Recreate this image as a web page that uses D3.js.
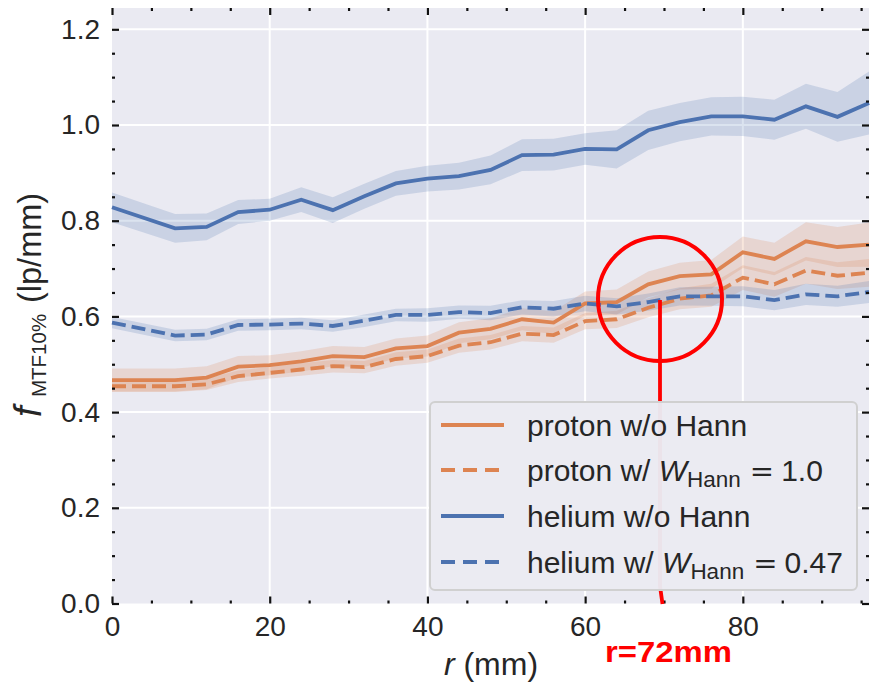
<!DOCTYPE html>
<html><head><meta charset="utf-8">
<script src="https://cdn.jsdelivr.net/npm/d3@7"></script>
<style>
html,body{margin:0;padding:0;background:#fff;}
svg{display:block;font-family:"Liberation Sans",Arial,sans-serif;}
</style></head>
<body>
<svg id="chart" width="871" height="682"></svg>
<script>
// ---------- data ----------
const rVals = [0,8,12,16,20,24,28,32,36,40,44,48,52,56,60,64,68,72,76,80,84,88,92,96];
const protonNoHann = [0.467,0.467,0.472,0.495,0.498,0.506,0.517,0.515,0.533,0.538,0.566,0.574,0.594,0.587,0.627,0.630,0.667,0.684,0.688,0.734,0.720,0.757,0.745,0.750];
const protonHann   = [0.454,0.454,0.458,0.475,0.482,0.489,0.496,0.494,0.511,0.517,0.539,0.546,0.564,0.561,0.590,0.594,0.618,0.637,0.644,0.681,0.667,0.696,0.685,0.691];
const heliumNoHann = [0.828,0.784,0.787,0.818,0.823,0.844,0.822,0.851,0.878,0.888,0.893,0.906,0.937,0.938,0.950,0.949,0.989,1.006,1.018,1.018,1.011,1.039,1.017,1.046];
const heliumHann   = [0.587,0.560,0.562,0.582,0.583,0.585,0.580,0.591,0.603,0.603,0.609,0.607,0.619,0.616,0.627,0.621,0.630,0.642,0.642,0.642,0.634,0.646,0.642,0.651];
const protonNoHannCI = [0.024,0.024,0.024,0.022,0.021,0.021,0.021,0.021,0.021,0.022,0.022,0.022,0.023,0.024,0.025,0.026,0.027,0.028,0.030,0.033,0.034,0.040,0.042,0.046];
const protonHannCI   = [0.012,0.012,0.012,0.012,0.012,0.013,0.013,0.013,0.014,0.014,0.015,0.015,0.016,0.016,0.017,0.018,0.020,0.022,0.024,0.026,0.026,0.028,0.028,0.029];
const heliumNoHannCI = [0.031,0.030,0.028,0.025,0.023,0.026,0.027,0.026,0.026,0.027,0.028,0.030,0.033,0.033,0.033,0.040,0.041,0.040,0.040,0.041,0.042,0.047,0.052,0.066];
const heliumHannCI   = [0.012,0.012,0.012,0.012,0.012,0.012,0.012,0.013,0.013,0.014,0.014,0.015,0.015,0.016,0.016,0.017,0.018,0.019,0.020,0.021,0.021,0.022,0.022,0.023];
const xMajorTicks = [0,20,40,60,80];
const xTickLabels = ["0","20","40","60","80"];
const yMajorTicks = [0.0,0.2,0.4,0.6,0.8,1.0,1.2];
const yTickLabels = ["0.0","0.2","0.4","0.6","0.8","1.0","1.2"];
const annotationText = "r=72mm";

const ORANGE = "#dd8452", BLUE = "#4c72b0";
const seriesList = [
  {name:"proton w/o Hann", vals:protonNoHann, ci:protonNoHannCI, color:ORANGE, dashed:false},
  {name:"proton w/ ", w:"1.0", vals:protonHann, ci:protonHannCI, color:ORANGE, dashed:true},
  {name:"helium w/o Hann", vals:heliumNoHann, ci:heliumNoHannCI, color:BLUE, dashed:false},
  {name:"helium w/ ", w:"0.47", vals:heliumHann, ci:heliumHannCI, color:BLUE, dashed:true}
];

// ---------- layout ----------
const L = 112, R = 869, T = 8, B = 603.5;
const x = d3.scaleLinear().domain([0,96]).range([L,R]);
const y = d3.scaleLinear().domain([0,1.2445]).range([B,T]);
const svg = d3.select("#chart");
const txt = "#262626";

svg.append("rect").attr("x",L).attr("y",T).attr("width",R-L).attr("height",B-T).attr("fill","#eaeaf2");

// grid
const g = svg.append("g");
g.selectAll(".gx").data(xMajorTicks.slice(1)).enter().append("line")
  .attr("x1",d=>x(d)).attr("x2",d=>x(d)).attr("y1",T).attr("y2",B)
  .attr("stroke","#fff").attr("stroke-width",2);
g.selectAll(".gy").data(yMajorTicks.slice(1)).enter().append("line")
  .attr("x1",L).attr("x2",R).attr("y1",d=>y(d)).attr("y2",d=>y(d))
  .attr("stroke","#fff").attr("stroke-width",2);

// bands and lines
const area = d3.area().x(d=>x(d.r)).y0(d=>y(d.v-d.c)).y1(d=>y(d.v+d.c));
const line = d3.line().x(d=>x(d.r)).y(d=>y(d.v));
seriesList.forEach(s=>{
  s.pts = rVals.map((r,i)=>({r:r, v:s.vals[i], c:s.ci[i]}));
  svg.append("path").attr("d",area(s.pts)).attr("fill",s.color).attr("fill-opacity",0.2).attr("stroke","none");
});
seriesList.forEach(s=>{
  svg.append("path").attr("d",line(s.pts)).attr("fill","none").attr("stroke",s.color)
    .attr("stroke-width",3.8).attr("stroke-dasharray",s.dashed?"14,6":null);
});

// ticks
const xMinor = d3.range(0,97,5).filter(v=>v%20!==0);
const yMinor = d3.range(0,25).map(i=>+(i*0.05).toFixed(2)).filter(v=>Math.abs(v*5-Math.round(v*5))>1e-6);
function styleAxis(sel){
  sel.select(".domain").remove();
  sel.selectAll(".tick line").attr("stroke","#111").attr("stroke-width",2.2);
  sel.selectAll(".tick text").attr("fill",txt).attr("font-size",28).attr("font-family","Liberation Sans, Arial, sans-serif");
}
function addAxis(axis, tx, ty){
  const a = svg.append("g").attr("transform",`translate(${tx},${ty})`).call(axis);
  styleAxis(a);
}
addAxis(d3.axisBottom(x).tickValues(xMajorTicks).tickSize(-7).tickPadding(12.5).tickFormat((d,i)=>xTickLabels[i]),0,B);
addAxis(d3.axisBottom(x).tickValues(xMinor).tickSize(-3).tickFormat(""),0,B);
addAxis(d3.axisTop(x).tickValues(xMajorTicks).tickSize(-7).tickFormat(""),0,T);
addAxis(d3.axisTop(x).tickValues(xMinor).tickSize(-3).tickFormat(""),0,T);
addAxis(d3.axisLeft(y).tickValues(yMajorTicks).tickSize(-7).tickPadding(12).tickFormat((d,i)=>yTickLabels[i]),L,0);
addAxis(d3.axisLeft(y).tickValues(yMinor).tickSize(-3).tickFormat(""),L,0);
addAxis(d3.axisRight(y).tickValues(yMajorTicks).tickSize(-7).tickFormat(""),R,0);
addAxis(d3.axisRight(y).tickValues(yMinor).tickSize(-3).tickFormat(""),R,0);

// axis labels
const xl = svg.append("text").attr("x",491).attr("y",675).attr("text-anchor","middle")
  .attr("fill",txt).attr("font-size",32);
xl.append("tspan").attr("font-style","italic").text("r");
xl.append("tspan").text(" (mm)");

const ylab = svg.append("text").attr("transform","translate(41,427) rotate(-90)")
  .attr("text-anchor","start").attr("fill",txt).attr("font-size",32.5);
ylab.append("tspan").attr("x",10).attr("font-style","italic").attr("font-size",38).text("f");
ylab.append("tspan").attr("x",30).attr("font-size",20.5).attr("dy",5).text("MTF10%");
ylab.append("tspan").attr("x",124).attr("dy",-5).text("(lp/mm)");

// annotation (red circle and pointer)
svg.append("circle").attr("cx",660).attr("cy",299).attr("r",62)
  .attr("fill","none").attr("stroke","#ff0000").attr("stroke-width",4);
svg.append("polyline").attr("points","660,300 660,586 662.5,604")
  .attr("fill","none").attr("stroke","#ff0000").attr("stroke-width",3.8);

// legend
const lg = svg.append("g");
lg.append("rect").attr("x",430).attr("y",402).attr("width",427).attr("height",188).attr("rx",5)
  .attr("fill","#eaeaf2").attr("fill-opacity",0.97).attr("stroke","#d0d0d0").attr("stroke-width",2);
const rowY = [425,470,516,562];
seriesList.forEach((s,i)=>{
  lg.append("line").attr("x1",441).attr("x2",504).attr("y1",rowY[i]).attr("y2",rowY[i])
    .attr("stroke",s.color).attr("stroke-width",4).attr("stroke-dasharray",s.dashed?"14,8":null);
  const t = lg.append("text").attr("x",527).attr("y",rowY[i]+11).attr("fill",txt).attr("font-size",30);
  if(!s.w){ t.text(s.name); }
  else{
    t.append("tspan").text(s.name);
    t.append("tspan").attr("font-style","italic").text("W");
    t.append("tspan").attr("font-size",22.5).attr("dy",6).text("Hann");
    t.append("tspan").attr("dy",-6).attr("dx",9).attr("font-family","DejaVu Sans").attr("font-size",29).text("=");
    t.append("tspan").attr("dx",7).text(s.w);
  }
});

// red label
svg.append("text").attr("x",605).attr("y",662).attr("fill","#ff0000").attr("font-weight","bold")
  .attr("font-size",29).attr("textLength",127).attr("lengthAdjust","spacingAndGlyphs").text(annotationText);
</script>
</body></html>
